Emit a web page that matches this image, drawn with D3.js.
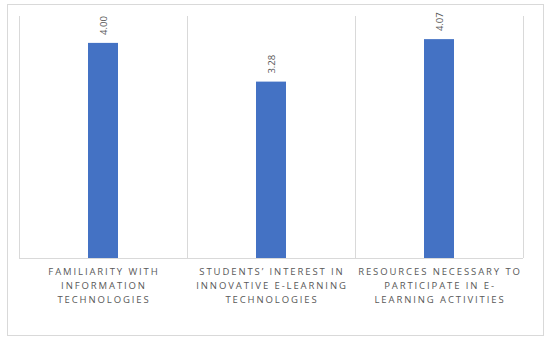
<!DOCTYPE html>
<html>
<head>
<meta charset="utf-8">
<script src="https://cdn.jsdelivr.net/npm/d3@7"></script>
<style>
  body { margin: 0; background: #fff; }
  svg { display: block; font-family: "Open Sans", "DejaVu Sans", sans-serif; }
</style>
</head>
<body>
<svg id="chart" width="550" height="344"></svg>
<script>
// data
var categories = [
  ['FAMILIARITY WITH', 'INFORMATION', 'TECHNOLOGIES'],
  ['STUDENTS\u2019 INTEREST IN', 'INNOVATIVE E-LEARNING', 'TECHNOLOGIES'],
  ['RESOURCES NECESSARY TO', 'PARTICIPATE IN E-', 'LEARNING ACTIVITIES']
];
var values = [4.00, 3.28, 4.07];
var yDomain = [0, 4.5];

// Dimensions
var margin = { top: 16, right: 27, bottom: 86, left: 19 },
    width = 550 - margin.left - margin.right,
    height = 344 - margin.top - margin.bottom;

var svg = d3.select('#chart');

// outer frame
svg.append('rect')
  .attr('x', 7.5).attr('y', 4.5)
  .attr('width', 536).attr('height', 331)
  .attr('fill', 'none')
  .attr('stroke', '#d9d9d9');

var g = svg.append('g')
  .attr('transform', 'translate(' + margin.left + ',' + margin.top + ')');

var keys = categories.map(function (d, i) { return i; });

var xScale = d3.scaleBand()
  .domain(keys)
  .range([0, width]);

var yScale = d3.scaleLinear()
  .domain(yDomain)
  .range([height, 0]);

// vertical gridlines at category boundaries
var bounds = keys.map(function (k) { return xScale(k); }).concat([width]);
g.selectAll('.vgrid')
  .data(bounds)
  .enter()
  .append('line')
  .attr('class', 'vgrid')
  .attr('x1', function (d) { return Math.round(d) + 0.5; })
  .attr('x2', function (d) { return Math.round(d) + 0.5; })
  .attr('y1', 0)
  .attr('y2', height)
  .attr('stroke', '#d9d9d9');

// baseline
g.append('line')
  .attr('x1', 0).attr('x2', width)
  .attr('y1', height + 0.5).attr('y2', height + 0.5)
  .attr('stroke', '#d9d9d9');

// bars
var barW = 30;
g.selectAll('.bar')
  .data(values)
  .enter()
  .append('rect')
  .attr('class', 'bar')
  .attr('x', function (d, i) { return xScale(i) + xScale.bandwidth() / 2 - barW / 2; })
  .attr('y', function (d) { return yScale(d); })
  .attr('width', barW)
  .attr('height', function (d) { return height - yScale(d); })
  .attr('fill', '#4472c4');

// value labels (rotated)
g.selectAll('.val')
  .data(values)
  .enter()
  .append('text')
  .attr('class', 'val')
  .attr('transform', function (d, i) {
    var x = xScale(i) + xScale.bandwidth() / 2 + 3.5;
    return 'translate(' + x + ',' + (yScale(d) - 8) + ') rotate(-90)';
  })
  .attr('text-anchor', 'start')
  .attr('font-size', '9.5px')
  .attr('fill', '#595959')
  .text(function (d) { return d3.format('.2f')(d); });

// category labels
var lab = g.selectAll('.cat')
  .data(categories)
  .enter()
  .append('text')
  .attr('class', 'cat')
  .attr('text-anchor', 'middle')
  .attr('font-size', '9.5px')
  .attr('letter-spacing', '1.9px')
  .attr('fill', '#595959');

lab.selectAll('tspan')
  .data(function (d, i) { return d.map(function (t) { return { t: t, i: i }; }); })
  .enter()
  .append('tspan')
  .attr('x', function (d) { return xScale(d.i) + xScale.bandwidth() / 2 + 1; })
  .attr('y', function (d, j) { return height + 17 + j * 14; })
  .text(function (d) { return d.t; });
</script>
</body>
</html>
